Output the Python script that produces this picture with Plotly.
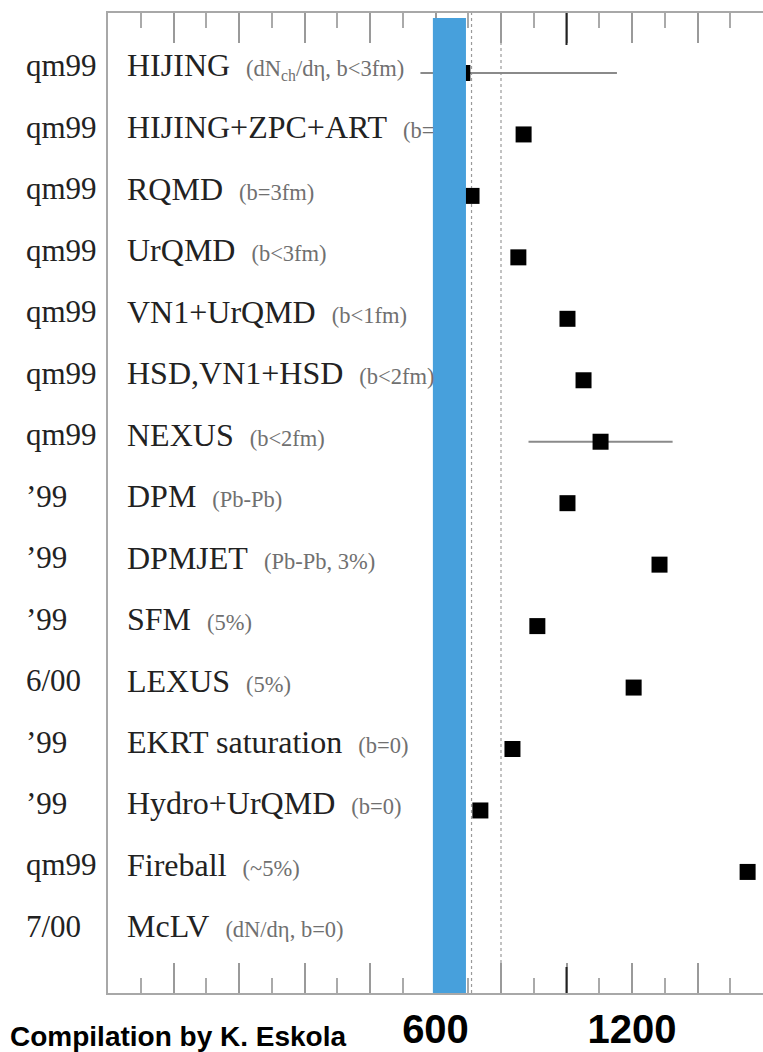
import plotly.graph_objects as go

# ---------------- data ----------------
rows = list(range(15))
row_dates = ["qm99", "qm99", "qm99", "qm99", "qm99", "qm99", "qm99",
             "\u201999", "\u201999", "\u201999", "6/00", "\u201999", "\u201999", "qm99", "7/00"]
models = ["HIJING", "HIJING+ZPC+ART", "RQMD", "UrQMD", "VN1+UrQMD", "HSD,VN1+HSD",
          "NEXUS", "DPM", "DPMJET", "SFM", "LEXUS", "EKRT saturation",
          "Hydro+UrQMD", "Fireball", "McLV"]
details = ["(dN<sub>ch</sub>/d\u03b7, b&lt;3fm)", "(b=", "(b=3fm)", "(b&lt;3fm)", "(b&lt;1fm)",
           "(b&lt;2fm)", "(b&lt;2fm)", "(Pb-Pb)", "(Pb-Pb, 3%)", "(5%)", "(5%)",
           "(b=0)", "(b=0)", "(~5%)", "(dN/d\u03b7, b=0)"]
values = [682, 869, 710, 853, 1003, 1052, 1104, 1003, 1284, 911, 1205, 835, 737, 1553, None]
err_plus = [472, 0, 0, 0, 0, 0, 220, 0, 0, 0, 0, 0, 0, 0, 0]
err_minus = [128, 0, 0, 0, 0, 0, 220, 0, 0, 0, 0, 0, 0, 0, 0]

band_lo, band_hi = 592, 693          # measured band (blue)
ref_lines = [710, 800]               # dotted reference lines
dark_tick = 1000

major_ticks = [-200, 0, 200, 400, 600, 800, 1000, 1200, 1400]
major_text = ["", "", "", "", "600", "", "", "1200", ""]
minor_ticks = [-300, -100, 100, 300, 500, 700, 900, 1100, 1300, 1500]

x_range = [-400, 1600]
y_range = [14.97, -0.976]

# ---------------- figure ----------------
fig = go.Figure()

fig.add_trace(go.Scatter(
    x=values, y=rows, mode="markers",
    marker=dict(symbol="square", size=16, color="black"),
    error_x=dict(type="data", symmetric=False, array=err_plus, arrayminus=err_minus,
                 color="#8a8a8a", thickness=2, width=0),
    showlegend=False, hoverinfo="skip",
))

shapes = []
for xv in ref_lines:
    shapes.append(dict(type="line", xref="x", yref="paper", x0=xv, x1=xv, y0=0, y1=1,
                       line=dict(color="#9a9a9a", width=1.2, dash="dot"), layer="below"))
shapes.append(dict(type="rect", xref="x", yref="paper", x0=band_lo, x1=band_hi,
                   y0=0, y1=0.995, fillcolor="#47a0dc", line=dict(width=0), layer="above"))
shapes.append(dict(type="line", xref="x", yref="paper", x0=dark_tick, x1=dark_tick,
                   y0=0, y1=26 / 980, line=dict(color="#222", width=2)))
shapes.append(dict(type="line", xref="x", yref="paper", x0=dark_tick, x1=dark_tick,
                   y0=1, y1=1 - 32 / 980, line=dict(color="#222", width=2)))

annotations = []
serif = "Liberation Serif"
for r, d, m, det in zip(rows, row_dates, models, details):
    annotations.append(dict(
        x=-0.128, xref="paper", y=r, yref="y", xanchor="left", yanchor="middle",
        text=d, showarrow=False, yshift=7,
        font=dict(family=serif, size=31, color="#222")))
    annotations.append(dict(
        x=-347, xref="x", y=r, yref="y", xanchor="left", yanchor="middle",
        text=m + "&nbsp;&nbsp;<span style='font-size:22.5px;color:#707070'>" + det + "</span>",
        showarrow=False, yshift=7,
        font=dict(family=serif, size=32, color="#222")))

annotations.append(dict(
    x=-0.152, xref="paper", y=-0.044, yref="paper", xanchor="left", yanchor="middle",
    text="Compilation by K. Eskola", showarrow=False,
    font=dict(family="Liberation Sans", size=28, color="black", weight="bold")))

fig.update_layout(
    width=763, height=1052,
    margin=dict(l=108, r=0, t=13, b=59, pad=0, autoexpand=False),
    paper_bgcolor="white", plot_bgcolor="white",
    shapes=shapes, annotations=annotations,
    xaxis=dict(
        range=x_range, showline=True, linecolor="#a8a8a8", linewidth=2,
        mirror="allticks", ticks="inside", tickmode="array",
        tickvals=major_ticks, ticktext=major_text, automargin=False,
        ticklen=30, tickcolor="#9a9a9a", tickwidth=1.5,
        minor=dict(tickmode="array", tickvals=minor_ticks, ticks="inside",
                   ticklen=15, tickcolor="#aaaaaa", tickwidth=1.5, showgrid=False),
        showgrid=False, zeroline=False, ticklabelstandoff=0,
        tickfont=dict(family="Liberation Sans", size=40, color="black", weight="bold"),
    ),
    yaxis=dict(
        range=y_range, showline=True, linecolor="#a8a8a8", linewidth=2, automargin=False,
        mirror=False, ticks="", showticklabels=False, showgrid=False, zeroline=False,
    ),
)

fig.write_html("out.html")
